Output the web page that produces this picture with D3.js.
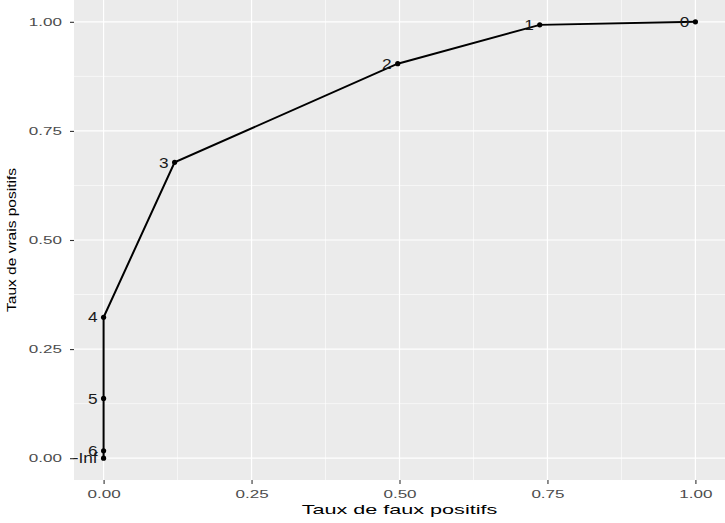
<!DOCTYPE html>
<html lang="fr">
<head>
    <meta charset="UTF-8">
    <title>Courbe ROC</title>
    <script src="https://cdn.jsdelivr.net/npm/d3@7"></script>
    <style>
        html, body {
            margin: 0;
            padding: 0;
            background: #fff;
            overflow: hidden;
        }
        text {
            font-family: "Liberation Sans", Arial, sans-serif;
        }
        .tick-label {
            fill: #4d4d4d;
            font-size: 11px;
        }
        .axis-title {
            fill: #000;
            font-size: 13.5px;
        }
    </style>
</head>
<body>
<script>
    // seuils et coordonnées (taux de faux positifs, taux de vrais positifs)
    let cutoffs = ['0', '1', '2', '3', '4', '5', '6', '-Inf'];
    let fpr = [1.00, 0.737, 0.497, 0.120, 0.00, 0.00, 0.00, 0.00];
    let tpr = [1.00, 0.993, 0.904, 0.678, 0.323, 0.137, 0.017, 0.00];
    let breaks = [0, 0.25, 0.5, 0.75, 1];
    let tickLabels = ['0.00', '0.25', '0.50', '0.75', '1.00'];

    let width = 725;
    let height = 523;
    let panel = {left: 74, right: 725, top: 0, bottom: 480};

    let svg = d3.select('body').append('svg')
        .attr('width', width)
        .attr('height', height);

    let x = d3.scaleLinear().domain([-0.05, 1.05]).range([panel.left, panel.right]);
    let y = d3.scaleLinear().domain([-0.05, 1.05]).range([panel.bottom, panel.top]);

    let minor = breaks.slice(1).map((b, i) => (b + breaks[i]) / 2);

    // le texte de la figure d'origine est étiré horizontalement
    function stretch(sel, sx) {
        sel.each(function () {
            let x0 = +(this.getAttribute('x') || 0);
            this.setAttribute('transform',
                `translate(${x0},0) scale(${sx},1) translate(${-x0},0)`);
        });
    }

    svg.append('rect')
        .attr('x', panel.left)
        .attr('y', panel.top)
        .attr('width', panel.right - panel.left)
        .attr('height', panel.bottom - panel.top)
        .attr('fill', '#ebebeb');

    let grid = svg.append('g').attr('stroke', '#fff');
    grid.selectAll('.minor-x').data(minor).enter().append('line')
        .attr('x1', d => x(d)).attr('x2', d => x(d))
        .attr('y1', panel.top).attr('y2', panel.bottom)
        .attr('stroke-width', 0.6);
    grid.selectAll('.minor-y').data(minor).enter().append('line')
        .attr('y1', d => y(d)).attr('y2', d => y(d))
        .attr('x1', panel.left).attr('x2', panel.right)
        .attr('stroke-width', 0.6);
    grid.selectAll('.major-x').data(breaks).enter().append('line')
        .attr('x1', d => x(d)).attr('x2', d => x(d))
        .attr('y1', panel.top).attr('y2', panel.bottom)
        .attr('stroke-width', 1.2);
    grid.selectAll('.major-y').data(breaks).enter().append('line')
        .attr('y1', d => y(d)).attr('y2', d => y(d))
        .attr('x1', panel.left).attr('x2', panel.right)
        .attr('stroke-width', 1.2);

    // axes
    let xAxis = d3.axisBottom(x).tickValues(breaks)
        .tickFormat((d, i) => tickLabels[i]).tickSize(4).tickPadding(6);
    let yAxis = d3.axisLeft(y).tickValues(breaks)
        .tickFormat((d, i) => tickLabels[i]).tickSize(4).tickPadding(8);

    let gx = svg.append('g')
        .attr('transform', `translate(0,${panel.bottom})`)
        .call(xAxis);
    let gy = svg.append('g')
        .attr('transform', `translate(${panel.left},0)`)
        .call(yAxis);
    [gx, gy].forEach(g => {
        g.select('.domain').remove();
        g.selectAll('.tick line').attr('stroke', '#333').attr('stroke-width', 1.1);
        g.selectAll('.tick text').attr('class', 'tick-label').attr('font-family', null).attr('font-size', null);
        stretch(g.selectAll('.tick text'), 1.55);
    });

    svg.append('text')
        .classed('axis-title', true)
        .attr('x', (panel.left + panel.right) / 2)
        .attr('y', 514)
        .attr('text-anchor', 'middle')
        .text('Taux de faux positifs')
        .call(stretch, 1.6);

    svg.append('text')
        .classed('axis-title', true)
        .attr('transform', `translate(16,${(panel.top + panel.bottom) / 2}) rotate(-90) scale(1.15,1)`)
        .attr('text-anchor', 'middle')
        .text('Taux de vrais positifs');

    let points = cutoffs.map((c, i) => ({label: c, fpr: fpr[i], tpr: tpr[i]}));

    let line = d3.line().x(d => x(d.fpr)).y(d => y(d.tpr));

    svg.append('path')
        .datum(points)
        .attr('d', line)
        .attr('fill', 'none')
        .attr('stroke', '#000')
        .attr('stroke-width', 2);

    svg.append('g').selectAll('circle')
        .data(points).enter()
        .append('circle')
        .attr('cx', d => x(d.fpr))
        .attr('cy', d => y(d.tpr))
        .attr('r', 2.6)
        .attr('fill', '#000');

    svg.append('g').selectAll('text')
        .data(points).enter()
        .append('text')
        .attr('x', d => x(d.fpr) - 6)
        .attr('y', d => y(d.tpr))
        .attr('dy', '0.35em')
        .attr('text-anchor', 'end')
        .attr('font-size', 15)
        .attr('fill', '#1a1a1a')
        .text(d => d.label)
        .call(stretch, 1.15);
</script>
</body>
</html>
